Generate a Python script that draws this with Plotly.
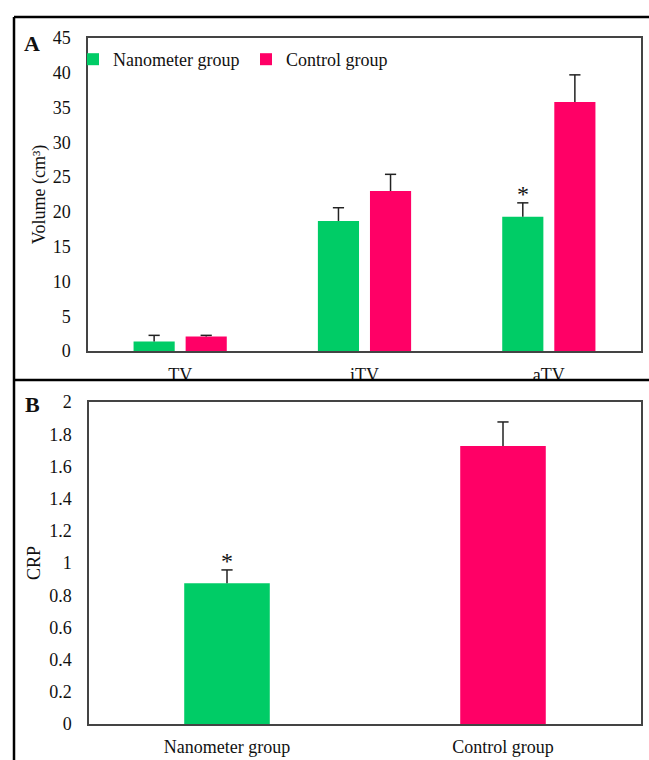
import plotly.graph_objects as go

# ---- Data ----
volume_categories = ["TV", "iTV", "aTV"]
nano_volume = [1.35, 18.7, 19.3]
nano_volume_err = [0.9, 1.9, 2.0]
control_volume = [2.1, 23.0, 35.8]
control_volume_err = [0.15, 2.4, 3.9]
volume_sig = [False, False, True]

crp_categories = ["Nanometer group", "Control group"]
crp_values = [0.874, 1.727]
crp_err = [0.083, 0.149]
crp_sig = [True, False]

GREEN = "rgb(0,204,102)"
PINK = "rgb(255,0,102)"
FONT = "Liberation Serif, Times New Roman, serif"
INK = "#111"

W, H = 649, 760
def px_x(p):
    return p / W
def px_y(p):
    return 1 - p / H

BARGAP = 0.435
BARGROUPGAP = 0.21
CRP_WIDTH = 0.31

fig = go.Figure()

stem = dict(type="data", symmetric=False, color="#222", thickness=1.5, width=0)

def add_bars(x, y, err, name, color, xa, ya, og, showlegend=True, width=None):
    fig.add_trace(go.Bar(
        x=x, y=y, name=name, showlegend=showlegend, width=width, offsetgroup=og,
        marker=dict(color=color, line=dict(width=0)),
        error_y=dict(array=err, arrayminus=[0] * len(y), **stem),
        xaxis=xa, yaxis=ya,
    ))

def add_caps(x, y, err, xa, ya, og):
    fig.add_trace(go.Scatter(
        x=x, y=[a + b for a, b in zip(y, err)], mode="markers", offsetgroup=og,
        marker=dict(symbol="line-ew", size=8, line=dict(color="#222", width=1.5)),
        showlegend=False, hoverinfo="skip", xaxis=xa, yaxis=ya,
    ))

add_bars(volume_categories, nano_volume, nano_volume_err, "Nanometer group", GREEN, "x", "y", "g1")
add_bars(volume_categories, control_volume, control_volume_err, "Control group", PINK, "x", "y", "g2")
add_bars(crp_categories, crp_values, crp_err, "CRP", [GREEN, PINK], "x2", "y2", "g3",
         showlegend=False, width=CRP_WIDTH)
add_caps(volume_categories, nano_volume, nano_volume_err, "x", "y", "g1")
add_caps(volume_categories, control_volume, control_volume_err, "x", "y", "g2")
add_caps(crp_categories, crp_values, crp_err, "x2", "y2", "g3")

# significance stars
slot = (1 - BARGAP) / 2
for i, s in enumerate(volume_sig):
    if s:
        fig.add_annotation(x=i - slot / 2, y=nano_volume[i] + nano_volume_err[i],
                           xref="x", yref="y", text="*", showarrow=False,
                           yanchor="bottom", yshift=-6,
                           font=dict(family=FONT, size=24, color=INK))
for i, s in enumerate(crp_sig):
    if s:
        fig.add_annotation(x=i, y=crp_values[i] + crp_err[i],
                           xref="x2", yref="y2", text="*", showarrow=False,
                           yanchor="bottom", yshift=-6,
                           font=dict(family=FONT, size=24, color=INK))

axis_line = dict(showline=True, linecolor="#444", linewidth=1.5, mirror=True,
                 showgrid=False, zeroline=False, ticks="", automargin=False,
                 tickfont=dict(family=FONT, size=18, color=INK))

fig.update_layout(
    width=W, height=H,
    margin=dict(l=0, r=0, t=0, b=0, autoexpand=False),
    paper_bgcolor="white", plot_bgcolor="white",
    barmode="group", bargap=BARGAP, bargroupgap=BARGROUPGAP,
    scattermode="group", scattergap=BARGAP,
    showlegend=True,
    legend=dict(orientation="h", x=px_x(73), y=px_y(41), xanchor="left", yanchor="top",
                font=dict(family=FONT, size=18, color=INK),
                bgcolor="rgba(0,0,0,0)", entrywidth=128, tracegroupgap=0),
    xaxis=dict(domain=[px_x(88), px_x(641)], anchor="y", ticklabelstandoff=7, **axis_line),
    yaxis=dict(domain=[px_y(351), px_y(38)], anchor="x", range=[0, 45], dtick=5,
               ticklabelstandoff=12,
               title=dict(text="Volume (cm³)", font=dict(family=FONT, size=18, color=INK),
                          standoff=2),
               **axis_line),
    xaxis2=dict(domain=[px_x(89), px_x(641)], anchor="y2", ticklabelstandoff=6, **axis_line),
    yaxis2=dict(domain=[px_y(724), px_y(402)], anchor="x2", range=[0, 2], dtick=0.2,
                ticklabelstandoff=12,
                title=dict(text="CRP", font=dict(family=FONT, size=18, color=INK),
                           standoff=4),
                **axis_line),
)

# frame: clip the category labels of panel A under the separator, then lines
fig.add_shape(type="rect", xref="paper", yref="paper",
              x0=px_x(95), x1=1, y0=px_y(392), y1=px_y(380),
              fillcolor="white", line=dict(width=0), layer="above")
for (x0, y0, x1, y1) in [(14, 17, 649, 17), (14, 17, 14, 760), (14, 380, 649, 380)]:
    fig.add_shape(type="line", xref="paper", yref="paper",
                  x0=px_x(x0), y0=px_y(y0), x1=px_x(x1), y1=px_y(y1),
                  line=dict(color="black", width=2.5), layer="above")

fig.add_annotation(text="<b>A</b>", x=px_x(32), y=px_y(43), xref="paper", yref="paper",
                   xanchor="center", yanchor="middle",
                   showarrow=False, font=dict(family=FONT, size=22, color=INK))
fig.add_annotation(text="<b>B</b>", x=px_x(32), y=px_y(404), xref="paper", yref="paper",
                   xanchor="center", yanchor="middle",
                   showarrow=False, font=dict(family=FONT, size=22, color=INK))

fig.write_html("out.html", config={"displayModeBar": False},
               post_script="document.body.style.margin='0';")
